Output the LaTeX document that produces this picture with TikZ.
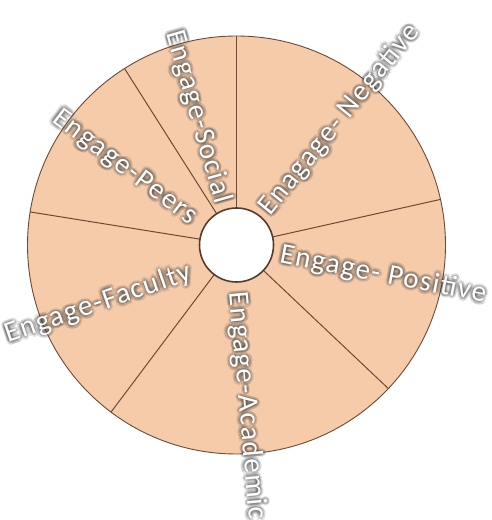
\documentclass[tikz,border=0pt]{standalone}
\usepackage{fontspec}
\setmainfont{Carlito}[LetterSpace=5]
\usetikzlibrary{calc}
\definecolor{peach}{HTML}{F6CBA9}
\definecolor{rim}{HTML}{6B4A36}
\definecolor{shade}{HTML}{3C3C3C}
\tikzset{
  lbl/.style={inner sep=0pt, font=\fontsize{29}{30}\selectfont},
  divider/.style={draw=rim, line width=1pt},
}
\newcommand{\glowlabel}[5]{%
  \foreach \a in {0,45,...,315}{
    \node[lbl, text=shade, opacity=0.13, rotate=#3, anchor=#4] at ($(#2)+(\a:3.4pt)$) {#5};
    \node[lbl, text=shade, opacity=0.13, rotate=#3, anchor=#4] at ($(#2)+(\a+22:1.7pt)$) {#5};
  }
  \node[lbl, text=white, rotate=#3, anchor=#4] (#1) at (#2) {#5};
}
\begin{document}
\begin{tikzpicture}[x=1pt,y=1pt]
\useasboundingbox (0,0) rectangle (491,520);
\fill[white] (0,0) rectangle (491,520);
\coordinate (C) at (236.5,275);
\fill[peach] (C) circle[radius=209];
\foreach \ang in {12.6,90,122.4,170.9,233.1,316.6}{
  \draw[divider] ($(C)+(\ang:37)$) -- ($(C)+(\ang:209)$);
}
\draw[rim, line width=0.9pt] (C) circle[radius=209];
\draw[rim!80!black, line width=1.6pt, fill=white] (C) circle[radius=37];
\coordinate (pNeg) at (265,308);
\coordinate (pSoc) at (223,317);
\coordinate (pPeer) at (194,300);
\coordinate (pFac) at (191,248);
\coordinate (pAca) at (237,228);
\coordinate (pPos) at (280,265);
\glowlabel{neg}{pNeg}{51}{west}{Enagage- Negative}
\glowlabel{soc}{pSoc}{-74}{east}{Engage-Social}
\glowlabel{peer}{pPeer}{-37}{east}{Engage-Peers}
\glowlabel{fac}{pFac}{19}{east}{Engage-Faculty}
\glowlabel{aca}{pAca}{-85}{west}{Engage-Academic}
\glowlabel{pos}{pPos}{-11}{west}{Engage- Positive}
\end{tikzpicture}
\end{document}
